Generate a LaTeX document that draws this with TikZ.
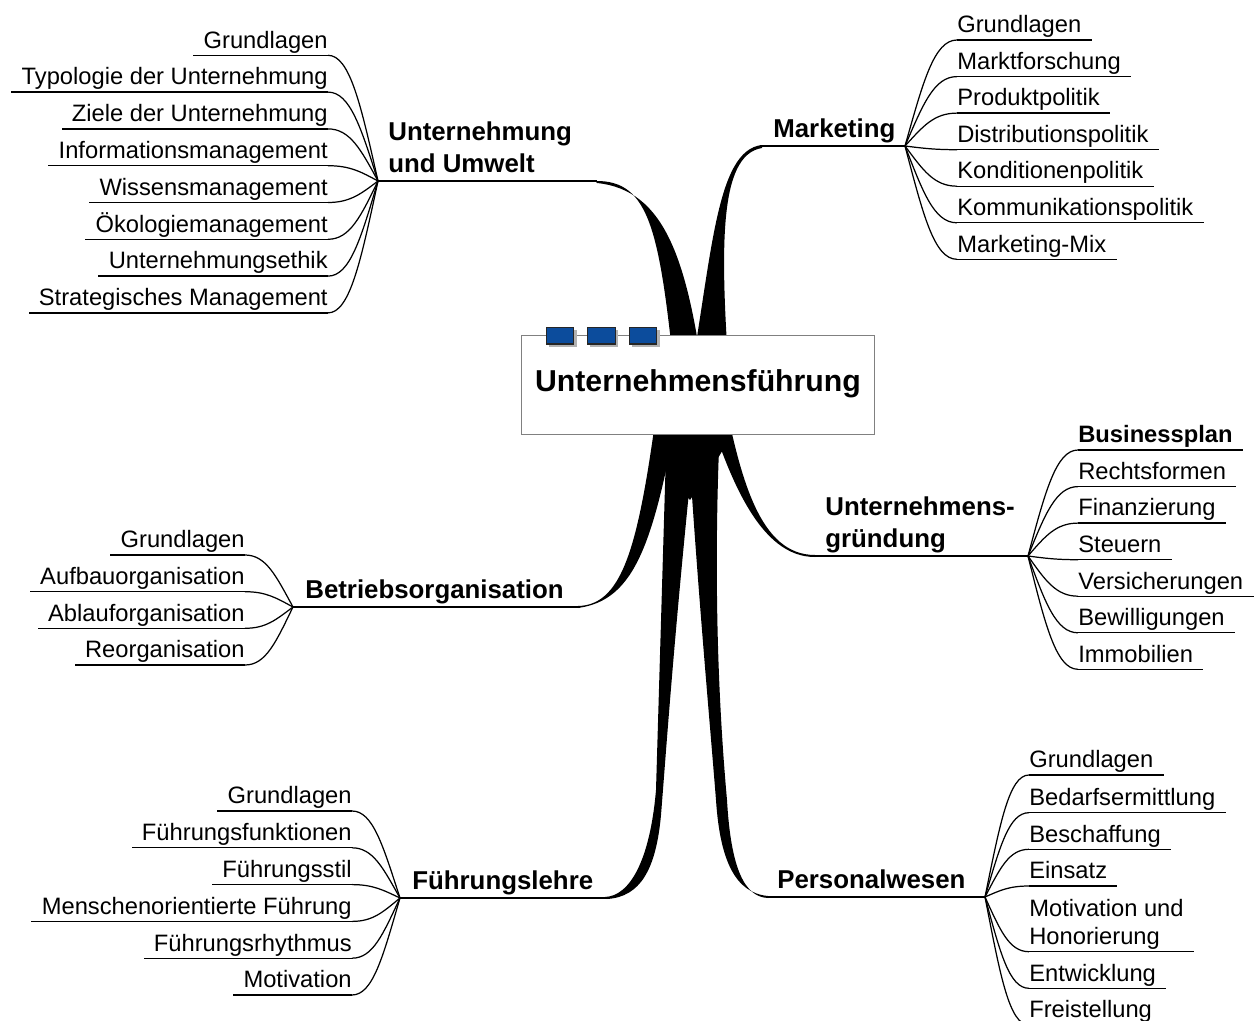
\documentclass[tikz,border=0pt]{standalone}
\usepackage{fontspec}
\setmainfont{Liberation Sans}
\definecolor{boxblue}{RGB}{12,76,156}
\newcommand{\itemsize}{\fontsize{13.5}{16}\selectfont}
\newcommand{\branchsize}{\fontsize{14.7}{18.5}\selectfont\bfseries}
\newcommand{\titlesize}{\fontsize{17.2}{20}\selectfont\bfseries}
\newcommand{\twolines}[2]{\begin{tabular}[b]{@{}l@{}}#1\\#2\end{tabular}}
\tikzset{
	item/.style={font=\itemsize, inner xsep=0pt, inner ysep=3.9pt, text depth=0pt},
	branch/.style={font=\branchsize, inner xsep=0pt, inner ysep=4.4pt, text depth=0pt},
	sub/.style={line width=0.7pt},
	mainline/.style={line width=1.1pt},
	trunk/.style={fill=black}
}

\begin{document}
\begin{tikzpicture}[x=0.02cm,y=-0.02cm]
	\useasboundingbox (0,0) rectangle (1259,1021);
	% thick branches out of the centre
	\fill[trunk] (595,181) .. controls (650,180) and (660,230) .. (676,390) -- (705,390) .. controls (688,260) and (665,190) .. (597,183) -- cycle;
	\fill[trunk] (688,390) .. controls (712,260) and (715,150) .. (762,145) -- (762,148) .. controls (718,155) and (720,250) .. (730,390) -- cycle;
	\fill[trunk] (722,385) .. controls (740,480) and (760,555) .. (815,555) -- (815,557) .. controls (760,557) and (728,480) .. (700,385) -- cycle;
	\fill[trunk] (660,385) .. controls (640,540) and (625,605) .. (578,606) -- (578,608) .. controls (635,600) and (655,545) .. (682,385) -- cycle;
	\fill[trunk] (668,385) -- (656,790) .. controls (650,860) and (630,896) .. (605,897) -- (607,899) .. controls (640,897) and (656,870) .. (661,815) .. controls (667,740) and (675,620) .. (700,385) -- cycle;
	\fill[trunk] (685,385) .. controls (695,560) and (708,700) .. (716,800) .. controls (720,860) and (735,893) .. (768,896) -- (768,898) .. controls (745,897) and (731,870) .. (727,800) .. controls (718,700) and (712,560) .. (722,385) -- cycle;
	\fill[trunk] (660,430) -- (735,430) -- (718,458) -- (690,500) -- (666,475) -- cycle;

	% centre box
	\node[draw=black!50, fill=white, line width=0.6pt, minimum width=7.08cm, minimum height=1.966cm, inner sep=0pt,
		font=\titlesize, text height=12.6pt, text depth=5.3pt] (main) at (698,385) {Unternehmensführung};
	\foreach \x in {560,601.7,643} {
		\fill[black!30] (\x-11.3,329.7) rectangle (\x+16.5,346.7);
		\filldraw[fill=boxblue, draw=black!85, line width=0.6pt] (\x-13.8,327.3) rectangle (\x+13.8,344);}

	% Unternehmung und Umwelt
	\coordinate (uu) at (378,181);
	\coordinate (uuend) at (597,181);
	\draw[mainline] (uu) -- (uuend);
	\node[branch, anchor=south west] (uulbl) at (388,181) {\twolines{Unternehmung}{und Umwelt}};
	\foreach \lbl/\y [count=\n] in {Grundlagen/55.3, Typologie der Unternehmung/92.1, Ziele der Unternehmung/128.9,
		Informationsmanagement/165.7, Wissensmanagement/202.5, Ökologiemanagement/239.3,
		Unternehmungsethik/276.1, Strategisches Management/312.9} {
		\node[item, anchor=south east] (uu\n) at (328,\y) {\lbl};
		\draw[sub] (uu\n.south east) -- (uu\n.south west) -- +(-10,0);
		\draw[sub] (uu) .. controls +(-17,{0.6*(\y-181)}) and +(22,0) .. (uu\n.south east);}

	% Marketing
	\coordinate (mk) at (905,146);
	\coordinate (mkend) at (760,146);
	\draw[mainline] (mkend) -- (mk);
	\node[branch, anchor=south west] (mklbl) at (773,146) {Marketing};
	\foreach \lbl/\y [count=\n] in {Grundlagen/40, Marktforschung/76.6, Produktpolitik/113.1, Distributionspolitik/149.7,
		Konditionenpolitik/186.2, Kommunikationspolitik/222.8, Marketing-Mix/259.3} {
		\node[item, anchor=south west] (mk\n) at (957,\y) {\lbl};
		\draw[sub] (mk\n.south west) -- (mk\n.south east) -- +(10,0);
		\draw[sub] (mk) .. controls +(18,{0.6*(\y-146)}) and +(-23,0) .. (mk\n.south west);}

	% Unternehmensgruendung
	\coordinate (ug) at (1028,556);
	\coordinate (ugend) at (813,556);
	\draw[mainline] (ugend) -- (ug);
	\node[branch, anchor=south west] (uglbl) at (825,556) {\twolines{Unternehmens-}{gründung}};
	\foreach \lbl/\y [count=\n] in {\textbf{Businessplan}/450, Rechtsformen/486.6, Finanzierung/523.1, Steuern/559.7,
		Versicherungen/596.2, Bewilligungen/632.8, Immobilien/669.3} {
		\node[item, anchor=south west] (ug\n) at (1078,\y) {\lbl};
		\draw[sub] (ug\n.south west) -- (ug\n.south east) -- +(10,0);
		\draw[sub] (ug) .. controls +(17,{0.6*(\y-556)}) and +(-22,0) .. (ug\n.south west);}

	% Betriebsorganisation
	\coordinate (bo) at (293,607);
	\coordinate (boend) at (580,607);
	\draw[mainline] (bo) -- (boend);
	\node[branch, anchor=south west] (bolbl) at (305,607) {Betriebsorganisation};
	\foreach \lbl/\y [count=\n] in {Grundlagen/555, Aufbauorganisation/591.7, Ablauforganisation/628.3, Reorganisation/665} {
		\node[item, anchor=south east] (bo\n) at (245,\y) {\lbl};
		\draw[sub] (bo\n.south east) -- (bo\n.south west) -- +(-10,0);
		\draw[sub] (bo) .. controls +(-17,{0.6*(\y-607)}) and +(21,0) .. (bo\n.south east);}

	% Fuehrungslehre
	\coordinate (fl) at (400,898);
	\coordinate (flend) at (607,898);
	\draw[mainline] (fl) -- (flend);
	\node[branch, anchor=south west] (fllbl) at (412,898) {Führungslehre};
	\foreach \lbl/\y [count=\n] in {Grundlagen/811, Führungsfunktionen/847.8, Führungsstil/884.6,
		Menschenorientierte Führung/921.4, Führungsrhythmus/958.2, Motivation/995} {
		\node[item, anchor=south east] (fl\n) at (352,\y) {\lbl};
		\draw[sub] (fl\n.south east) -- (fl\n.south west) -- +(-10,0);
		\draw[sub] (fl) .. controls +(-17,{0.6*(\y-898)}) and +(21,0) .. (fl\n.south east);}

	% Personalwesen
	\coordinate (pw) at (985,897);
	\coordinate (pwend) at (766,897);
	\draw[mainline] (pwend) -- (pw);
	\node[branch, anchor=south west] (pwlbl) at (777,897) {Personalwesen};
	\foreach \lbl/\y [count=\n] in {Grundlagen/775, Bedarfsermittlung/812.7, Beschaffung/849.3, Einsatz/886,
		\twolines{Motivation und}{Honorierung}/951.7, Entwicklung/988.3, Freistellung/1025} {
		\node[item, anchor=south west] (pw\n) at (1029,\y) {\lbl};
		\draw[sub] (pw\n.south west) -- (pw\n.south east) -- +(10,0);
		\draw[sub] (pw) .. controls +(15,{0.6*(\y-897)}) and +(-20,0) .. (pw\n.south west);}
\end{tikzpicture}
\end{document}
